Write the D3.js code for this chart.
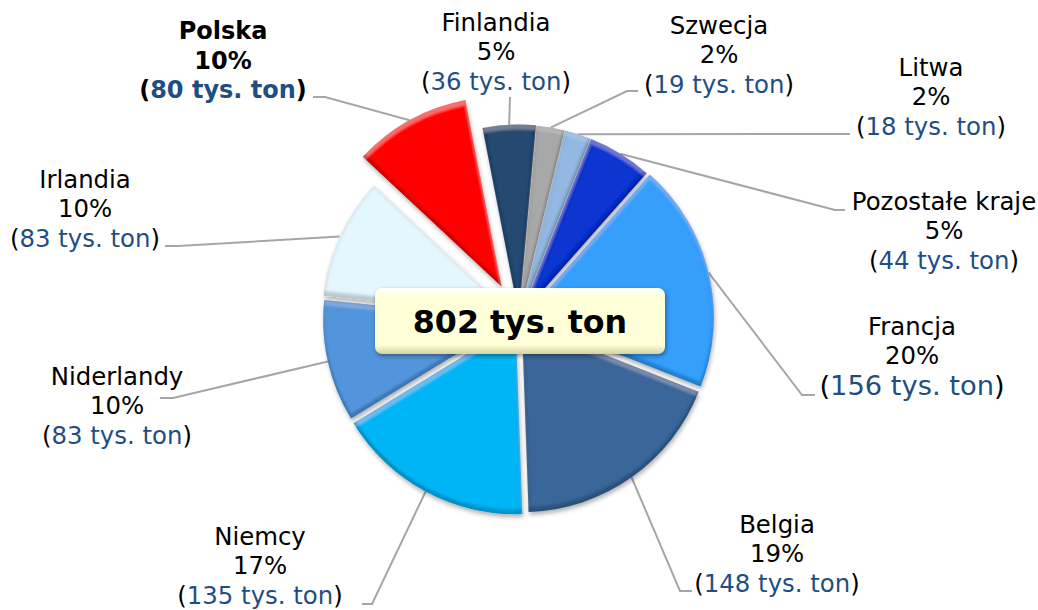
<!DOCTYPE html>
<html>
<head>
<meta charset="utf-8">
<script src="https://cdn.jsdelivr.net/npm/d3@7"></script>
<style>
  html, body { margin: 0; padding: 0; background: #fff; }
  text { font-family: "DejaVu Sans", sans-serif; }
</style>
</head>
<body>
<div id="chart"></div>
<script>
// Data
const categories = ["Finlandia", "Szwecja", "Litwa", "Pozostałe kraje", "Francja", "Belgia", "Niemcy", "Niderlandy", "Irlandia", "Polska"];
const tons = [36, 19, 18, 44, 156, 148, 135, 83, 83, 80];
const shares = [5, 2, 2, 5, 20, 19, 17, 10, 10, 10];
const totalLabel = "802 tys. ton";

// Styling per slice
const colors = ["#264a72", "#a8a8a8", "#93b8e2", "#0a34d0", "#369ffb", "#3b6699", "#00b5f6", "#5295dc", "#e4f7fe", "#ff0000"];
const explode = [3.5, 3, 3, 3, 5, 5, 7, 6, 7, 36];

// Label layout: centre x, centre y of the first line, elbow and end of the leader
const labelX = [496, 719, 931, 944, 912, 777, 260, 117, 85, 223];
const labelY = [22, 25, 67, 201, 326, 524, 536, 376, 179, 31];
const elbows = [[510, 97], [627, 91], [850, 134], [835, 210], [802, 395], [680, 591], [372, 604], [173, 398], [178, 246], [325, 97]];
const leaderEnds = [[510, 97], [638, 91], [850, 134], [845, 210], [815, 395], [692, 591], [362, 604], [160, 398], [165, 246], [313, 97]];

const width = 1038, height = 610;
const cx = 519, cy = 318, radius = 190;
const lineHeight = 29.5;

const svg = d3.select("#chart").append("svg")
  .attr("width", width)
  .attr("height", height)
  .style("display", "block");

// Bevel: light band along top edges, dark band along bottom edges, thin rim, soft shadow
const defs = svg.append("defs");
const f = defs.append("filter").attr("id", "bevel")
  .attr("x", "-20%").attr("y", "-20%").attr("width", "140%").attr("height", "140%");
f.append("feGaussianBlur").attr("in", "SourceAlpha").attr("stdDeviation", 1.2).attr("result", "blur");
f.append("feOffset").attr("in", "blur").attr("dy", 5).attr("result", "down");
f.append("feOffset").attr("in", "blur").attr("dy", -5).attr("result", "up");
f.append("feComposite").attr("in", "SourceAlpha").attr("in2", "down").attr("operator", "out").attr("result", "topBand");
f.append("feComposite").attr("in", "SourceAlpha").attr("in2", "up").attr("operator", "out").attr("result", "bottomBand");
f.append("feFlood").attr("flood-color", "#fff").attr("flood-opacity", 0.16).attr("result", "white");
f.append("feComposite").attr("in", "white").attr("in2", "topBand").attr("operator", "in").attr("result", "hi");
f.append("feFlood").attr("flood-color", "#000").attr("flood-opacity", 0.3).attr("result", "black");
f.append("feComposite").attr("in", "black").attr("in2", "bottomBand").attr("operator", "in").attr("result", "lo");
f.append("feMorphology").attr("in", "SourceAlpha").attr("operator", "erode").attr("radius", 2).attr("result", "eroded");
f.append("feGaussianBlur").attr("in", "eroded").attr("stdDeviation", 0.8).attr("result", "erodedBlur");
f.append("feComposite").attr("in", "SourceAlpha").attr("in2", "erodedBlur").attr("operator", "out").attr("result", "rimBand");
f.append("feFlood").attr("flood-color", "#000").attr("flood-opacity", 0.14).attr("result", "rimColor");
f.append("feComposite").attr("in", "rimColor").attr("in2", "rimBand").attr("operator", "in").attr("result", "rim");
f.append("feGaussianBlur").attr("in", "SourceAlpha").attr("stdDeviation", 2).attr("result", "sb");
f.append("feOffset").attr("in", "sb").attr("dx", 1).attr("dy", 3).attr("result", "so");
f.append("feFlood").attr("flood-color", "#000").attr("flood-opacity", 0.3).attr("result", "sc");
f.append("feComposite").attr("in", "sc").attr("in2", "so").attr("operator", "in").attr("result", "shadow");
const fm = f.append("feMerge");
["shadow", "SourceGraphic", "rim", "hi", "lo"].forEach(n => fm.append("feMergeNode").attr("in", n));

const boxGrad = defs.append("linearGradient").attr("id", "boxFill")
  .attr("x1", 0).attr("y1", 0).attr("x2", 0).attr("y2", 1);
boxGrad.append("stop").attr("offset", "0").attr("stop-color", "#ffffff");
boxGrad.append("stop").attr("offset", "0.14").attr("stop-color", "#ffffd8");
boxGrad.append("stop").attr("offset", "0.86").attr("stop-color", "#ffffd8");
boxGrad.append("stop").attr("offset", "1").attr("stop-color", "#d6d2a0");

// Pie layout, first slice starts 11 degrees left of north
const pie = d3.pie().sort(null).value(d => d)
  .startAngle(-11 * Math.PI / 180)
  .endAngle(349 * Math.PI / 180);
const slices = pie(tons);

const arc = d3.arc().innerRadius(0).outerRadius(radius);
const rimArc = d3.arc().innerRadius(radius).outerRadius(radius);

// Offset of a slice along its mid angle
const shift = (d, i) => {
  const mid = (d.startAngle + d.endAngle) / 2;
  return [cx + explode[i] * Math.sin(mid), cy - explode[i] * Math.cos(mid)];
};

// Leader lines go under the slices
svg.append("g").selectAll("polyline")
  .data(slices)
  .join("polyline")
  .attr("points", (d, i) => {
    const o = shift(d, i), c = rimArc.centroid(d);
    return [[o[0] + c[0], o[1] + c[1]], elbows[i], leaderEnds[i]].join(" ");
  })
  .attr("fill", "none")
  .attr("stroke", "#a6a6a6")
  .attr("stroke-width", 2);

svg.append("g").selectAll("path")
  .data(slices)
  .join("path")
  .attr("transform", (d, i) => `translate(${shift(d, i)})`)
  .attr("d", arc)
  .attr("fill", (d, i) => colors[i])
  .attr("filter", "url(#bevel)");

// Labels: name, share, amount in brackets
const labels = svg.append("g").selectAll("text")
  .data(categories)
  .join("text")
  .attr("text-anchor", "middle")
  .attr("font-size", d => d === "Polska" ? 24 : 24.4)
  .attr("fill", "#000")
  .attr("font-weight", d => d === "Polska" ? "bold" : "normal");

labels.each(function(name, i) {
  const t = d3.select(this);
  t.append("tspan").attr("x", labelX[i]).attr("y", labelY[i]).attr("dy", "0.35em").text(name);
  t.append("tspan").attr("x", labelX[i]).attr("y", labelY[i] + lineHeight).attr("dy", "0.35em").text(shares[i] + "%");
  const last = t.append("tspan").attr("x", labelX[i]).attr("y", labelY[i] + 2 * lineHeight).attr("dy", "0.35em");
  if (name === "Francja") last.attr("font-size", 27.3);
  last.append("tspan").text("(");
  last.append("tspan").attr("fill", "#1f4e84").text(tons[i] + " tys. ton");
  last.append("tspan").text(")");
});

// Total box in the middle
const box = svg.append("g");
box.append("rect")
  .attr("x", 375).attr("y", 288).attr("width", 290).attr("height", 66).attr("rx", 7)
  .attr("fill", "url(#boxFill)")
  .style("filter", "drop-shadow(1px 2px 2px rgba(0,0,0,0.4))");
box.append("text")
  .attr("x", 520).attr("y", 322).attr("dy", "0.35em")
  .attr("text-anchor", "middle")
  .attr("font-size", 31.7).attr("font-weight", "bold")
  .text(totalLabel);
</script>
</body>
</html>
